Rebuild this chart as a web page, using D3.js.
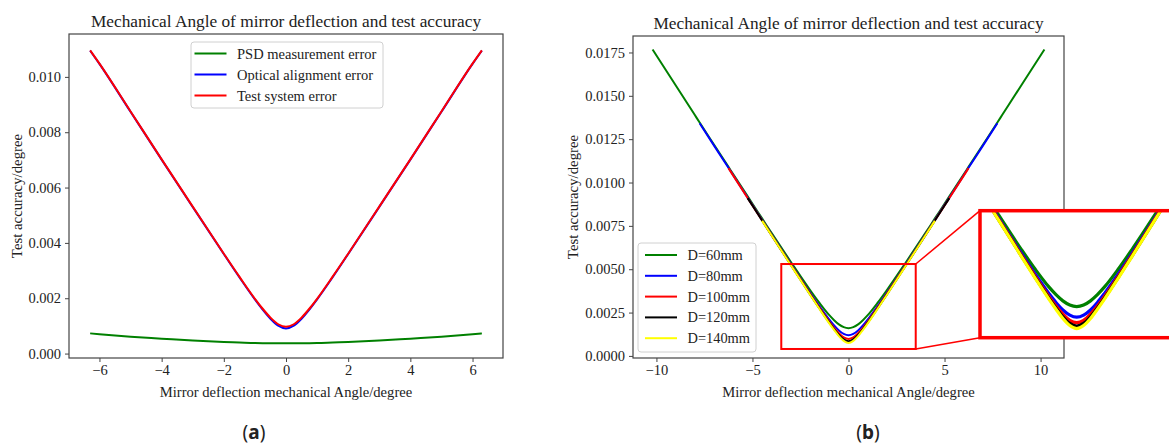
<!DOCTYPE html>
<meta charset="utf-8">
<script src="https://d3js.org/d3.v7.min.js"></script>
<style>
  body { margin: 0; background: #fff; }
  text { font-family: "Liberation Serif", "Times New Roman", serif; fill: #222; }
</style>
<div id="chart"></div>
<script>

// ---- data ----
// panel (a)
var angleA = [-6.3,-6,-5,-4,-3,-2,-1.5,-1,-0.75,-0.5,-0.25,0,0.25,0.5,0.75,1,1.5,2,3,4,5,6,6.3];
var psdError = [0.00073,0.00070,0.00061,0.00054,0.00047,0.00042,0.00040,0.00038,0.000375,0.00037,0.00037,0.00037,
                0.00037,0.00037,0.000375,0.00038,0.00040,0.00042,0.00047,0.00054,0.00061,0.00070,0.00073];
var opticalError = [0.01095,0.01047,0.00874,0.00701,0.00530,0.00360,0.00276,0.00196,0.00159,0.00126,0.00101,0.00091,
                    0.00101,0.00126,0.00159,0.00196,0.00276,0.00360,0.00530,0.00701,0.00874,0.01047,0.01095];
var systemError = [0.01096,0.01048,0.00875,0.00702,0.00531,0.00361,0.00278,0.00198,0.00162,0.00130,0.00106,0.00097,
                   0.00106,0.00130,0.00162,0.00198,0.00278,0.00361,0.00531,0.00702,0.00875,0.01048,0.01096];
var namesA = ["PSD measurement error", "Optical alignment error", "Test system error"];
var colorsA = ["green", "blue", "red"];
var ticksAx = [-6,-4,-2,0,2,4,6];
var ticksAy = [0,0.002,0.004,0.006,0.008,0.010];

// panel (b)
var angleB = [-10.2,-9,-8,-7.75,-7,-6.25,-6,-5.25,-5,-4.5,-4,-3,-2,-1.5,-1,-0.75,-0.5,-0.25,0,
              0.25,0.5,0.75,1,1.5,2,3,4,4.5,5,5.25,6,6.25,7,7.75,8,9,10.2];
var d60 = [0.01767,0.01561,0.01389,0.01346,0.01218,0.01090,0.01047,0.00920,0.00877,0.00793,0.00708,0.00542,0.00380,0.00304,0.00235,0.00206,0.00182,0.00166,0.00160,
           0.00166,0.00182,0.00206,0.00235,0.00304,0.00380,0.00542,0.00708,0.00793,0.00877,0.00920,0.01047,0.01090,0.01218,0.01346,0.01389,0.01561,0.01767];
var d80 = [null,null,null,0.01342,0.01213,0.01085,0.01042,0.00913,0.00871,0.00785,0.00700,0.00531,0.00365,0.00285,0.00210,0.00176,0.00147,0.00127,0.00119,
           0.00127,0.00147,0.00176,0.00210,0.00285,0.00365,0.00531,0.00700,0.00785,0.00871,0.00913,0.01042,0.01085,0.01213,0.01342,null,null,null];
var d100 = [null,null,null,null,null,0.01083,0.01040,0.00911,0.00868,0.00782,0.00697,0.00527,0.00359,0.00277,0.00198,0.00162,0.00131,0.00107,0.00098,
            0.00107,0.00131,0.00162,0.00198,0.00277,0.00359,0.00527,0.00697,0.00782,0.00868,0.00911,0.01040,0.01083,null,null,null,null,null];
var d120 = [null,null,null,null,null,null,null,0.00910,0.00867,0.00781,0.00695,0.00524,0.00355,0.00272,0.00192,0.00155,0.00121,0.00095,0.00085,
            0.00095,0.00121,0.00155,0.00192,0.00272,0.00355,0.00524,0.00695,0.00781,0.00867,0.00910,null,null,null,null,null,null,null];
var d140 = [null,null,null,null,null,null,null,null,null,0.00780,0.00694,0.00523,0.00353,0.00269,0.00188,0.00150,0.00114,0.00087,0.00075,
            0.00087,0.00114,0.00150,0.00188,0.00269,0.00353,0.00523,0.00694,0.00780,null,null,null,null,null,null,null,null,null];
var namesB = ["D=60mm", "D=80mm", "D=100mm", "D=120mm", "D=140mm"];
var colorsB = ["green", "blue", "red", "black", "yellow"];
var ticksBx = [-10,-5,0,5,10];
var ticksBy = [0,0.0025,0.005,0.0075,0.01,0.0125,0.015,0.0175];
var zoomX = [-3.5, 3.5];
var zoomY = [0.0004, 0.0053];

var title = "Mechanical Angle of mirror deflection and test accuracy";
var xLabel = "Mirror deflection mechanical Angle/degree";
var yLabel = "Test accuracy/degree";

// ---- page ----
var svg = d3.select("#chart").append("svg")
    .attr("width", 1169)
    .attr("height", 446);

function drawAxes(box, x, y, xt, yt, yfmt) {
  var g = svg.append("g");
  g.append("g")
    .attr("transform", "translate(0," + box.bottom + ")")
    .call(d3.axisBottom(x).tickValues(xt).tickSize(4).tickPadding(3).tickFormat(function(d) { return d3.format("d")(d).replace("-", "\u2212"); }));
  g.append("g")
    .attr("transform", "translate(" + box.left + ",0)")
    .call(d3.axisLeft(y).tickValues(yt).tickSize(4).tickPadding(4).tickFormat(d3.format(yfmt)));
  g.selectAll(".domain").remove();
  g.selectAll(".tick line").attr("stroke", "#444").attr("stroke-width", 1);
  g.selectAll(".tick text")
    .style("font-family", "'Liberation Serif', 'Times New Roman', serif")
    .style("font-size", "14.5px").attr("fill", "#222");
  // frame
  g.append("rect")
    .attr("x", box.left).attr("y", box.top)
    .attr("width", box.right - box.left).attr("height", box.bottom - box.top)
    .attr("fill", "none").attr("stroke", "#444").attr("stroke-width", 1.2);
  // labels
  svg.append("text").attr("x", (box.left + box.right) / 2).attr("y", box.top - 7)
    .attr("text-anchor", "middle").style("font-size", "17.3px").text(title);
  svg.append("text").attr("x", (box.left + box.right) / 2).attr("y", box.bottom + 34).attr("dy", "0.35em")
    .attr("text-anchor", "middle").style("font-size", "14.6px").text(xLabel);
  svg.append("text")
    .attr("transform", "translate(" + box.yLabelX + "," + (box.top + box.bottom) / 2 + ") rotate(-90)")
    .attr("text-anchor", "middle").attr("dy", "0.35em").style("font-size", "14.8px").text(yLabel);
}

function drawLegend(lg, names, colors) {
  svg.append("rect").attr("x", lg.x).attr("y", lg.y).attr("width", lg.w).attr("height", lg.h)
    .attr("rx", 3).attr("fill", "white").attr("fill-opacity", 0.85)
    .attr("stroke", "#d0d0d0");
  names.forEach(function(n, i) {
    var yy = lg.y + lg.first + i * lg.step;
    svg.append("line").attr("x1", lg.x + lg.h0).attr("x2", lg.x + lg.h0 + 32).attr("y1", yy).attr("y2", yy)
      .attr("stroke", colors[i]).attr("stroke-width", 2);
    svg.append("text").attr("x", lg.x + lg.tx).attr("y", yy).attr("dy", "0.35em")
      .style("font-size", lg.fs).text(n);
  });
}

// ---- panel (a) ----
var boxA = {left: 69, right: 503, top: 34, bottom: 358, yLabelX: 17};
var xA = d3.scaleLinear().domain([-6.98, 6.98]).range([boxA.left, boxA.right]);
var yA = d3.scaleLinear().domain([-0.00016, 0.01155]).range([boxA.bottom, boxA.top]);
drawAxes(boxA, xA, yA, ticksAx, ticksAy, ".3f");

var seriesA = [psdError, opticalError, systemError];
var lineA = d3.line()
  .x(function(d, i) { return xA(angleA[i]); })
  .y(function(d) { return yA(d); })
  .curve(d3.curveMonotoneX);
seriesA.forEach(function(s, i) {
  svg.append("path").datum(s).attr("d", lineA)
    .attr("fill", "none").attr("stroke", colorsA[i]).attr("stroke-width", 2);
});
drawLegend({x: 191, y: 42, w: 192, h: 66, first: 11.5, step: 21, h0: 3.5, tx: 46, fs: "14.5px"}, namesA, colorsA);

// ---- panel (b) ----
var boxB = {left: 633, right: 1064, top: 36, bottom: 358, yLabelX: 573};
var xB = d3.scaleLinear().domain([-11.22, 11.22]).range([boxB.left, boxB.right]);
var yB = d3.scaleLinear().domain([-0.00012, 0.01845]).range([boxB.bottom, boxB.top]);
drawAxes(boxB, xB, yB, ticksBx, ticksBy, ".4f");

var seriesB = [d60, d80, d100, d120, d140];
function lineFor(xs, ys) {
  return d3.line()
    .defined(function(d) { return d !== null; })
    .x(function(d, i) { return xs(angleB[i]); })
    .y(function(d) { return ys(d); })
    .curve(d3.curveMonotoneX);
}
var lineB = lineFor(xB, yB);
seriesB.forEach(function(s, i) {
  svg.append("path").datum(s).attr("d", lineB)
    .attr("fill", "none").attr("stroke", colorsB[i]).attr("stroke-width", 2);
});
drawLegend({x: 638, y: 243, w: 118, h: 109, first: 12, step: 20.8, h0: 7, tx: 49.5, fs: "14.4px"}, namesB, colorsB);

// zoom box in the main axes
var zb = {x0: xB(zoomX[0]), x1: xB(zoomX[1]), y0: yB(zoomY[1]), y1: yB(zoomY[0])};
svg.append("rect").attr("x", zb.x0).attr("y", zb.y0)
  .attr("width", zb.x1 - zb.x0).attr("height", zb.y1 - zb.y0)
  .attr("fill", "none").attr("stroke", "red").attr("stroke-width", 2);

// inset
var inset = {left: 980, right: 1173.4, top: 210.7, bottom: 337.7};
svg.append("line").attr("x1", zb.x1).attr("y1", zb.y0).attr("x2", inset.left).attr("y2", inset.top)
  .attr("stroke", "red").attr("stroke-width", 1.5);
svg.append("line").attr("x1", zb.x1).attr("y1", zb.y1).attr("x2", inset.left).attr("y2", inset.bottom)
  .attr("stroke", "red").attr("stroke-width", 1.5);

var xI = d3.scaleLinear().domain(zoomX).range([inset.left, inset.right]);
var yI = d3.scaleLinear().domain(zoomY).range([inset.bottom, inset.top]);
svg.append("clipPath").attr("id", "insetClip").append("rect")
  .attr("x", inset.left).attr("y", inset.top)
  .attr("width", inset.right - inset.left).attr("height", inset.bottom - inset.top);
svg.append("rect").attr("x", inset.left).attr("y", inset.top)
  .attr("width", inset.right - inset.left).attr("height", inset.bottom - inset.top)
  .attr("fill", "white");
var gI = svg.append("g").attr("clip-path", "url(#insetClip)");
var lineI = lineFor(xI, yI);
seriesB.forEach(function(s, i) {
  gI.append("path").datum(s).attr("d", lineI)
    .attr("fill", "none").attr("stroke", colorsB[i]).attr("stroke-width", 3.2);
});
svg.append("rect").attr("x", inset.left).attr("y", inset.top)
  .attr("width", inset.right - inset.left).attr("height", inset.bottom - inset.top)
  .attr("fill", "none").attr("stroke", "red").attr("stroke-width", 3.5);

// ---- captions ----
[["a", 254, 432], ["b", 868, 432]].forEach(function(c) {
  var t = svg.append("text").attr("x", c[1]).attr("y", c[2]).attr("dy", "0.35em")
    .attr("text-anchor", "middle")
    .style("font-family", "'Noto Sans', 'DejaVu Sans', sans-serif").style("font-size", "19px").attr("fill", "#111");
  t.append("tspan").text("(");
  t.append("tspan").style("font-weight", "bold").text(c[0]);
  t.append("tspan").text(")");
});

</script>
